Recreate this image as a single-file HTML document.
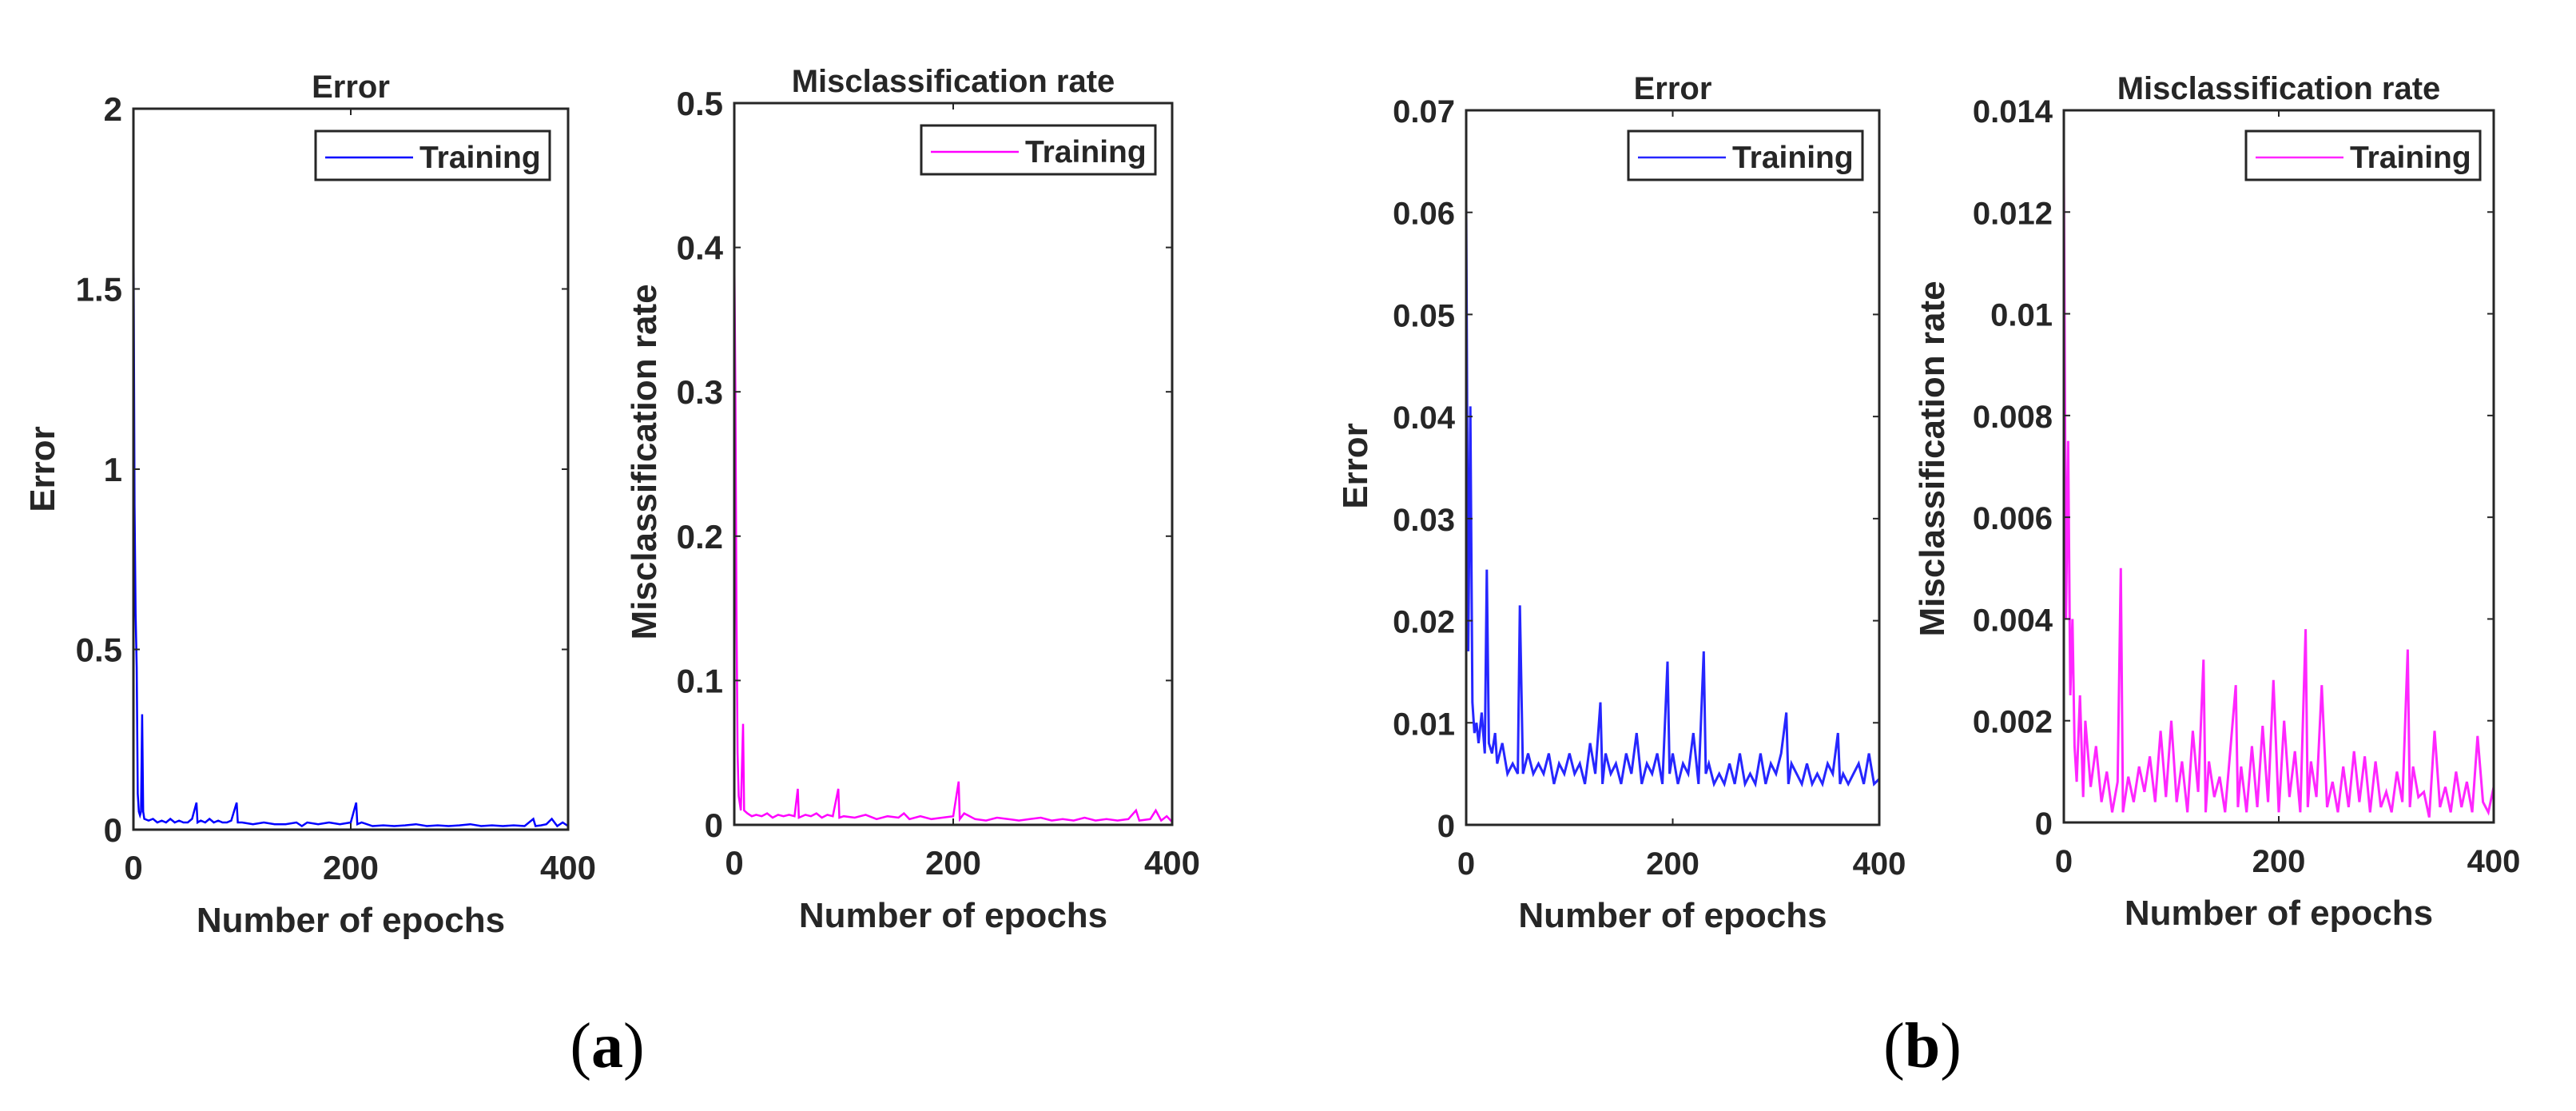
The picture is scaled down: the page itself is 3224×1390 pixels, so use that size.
<!DOCTYPE html>
<html><head><meta charset="utf-8">
<style>
html,body{margin:0;padding:0;background:#fff;}
svg{display:block;}
text{font-family:"Liberation Sans",Arial,sans-serif;font-weight:bold;fill:#262626;}
.cap{font-family:"Liberation Serif",serif;font-weight:normal;fill:#000;}
</style></head>
<body>
<svg id="fig" width="3224" height="1390" viewBox="0 0 3224 1390" xmlns="http://www.w3.org/2000/svg">
<text class="cap" x="760" y="1335" font-size="80" text-anchor="middle">(<tspan font-weight="bold">a</tspan>)</text>
<text class="cap" x="2406" y="1335" font-size="80" text-anchor="middle">(<tspan font-weight="bold">b</tspan>)</text>
</svg>
<script>
// ---- data ----
const aErrEpochs = [0,1,2,3,4,5,6,7,8,9,10,14,18,22,26,30,34,38,42,46,50,54,58,59,62,66,70,74,78,82,86,90,95,96,100,110,120,130,140,150,155,160,170,180,190,200,205,206,210,220,230,240,250,260,270,280,290,300,310,320,330,340,350,360,368,370,375,380,385,390,395,400];
const aErrValues = [1.72,0.9,0.6,0.45,0.1,0.05,0.04,0.05,0.32,0.05,0.03,0.025,0.03,0.02,0.025,0.02,0.03,0.02,0.025,0.02,0.02,0.03,0.075,0.02,0.025,0.02,0.03,0.02,0.025,0.02,0.02,0.025,0.075,0.02,0.02,0.015,0.02,0.015,0.015,0.02,0.01,0.02,0.015,0.02,0.015,0.02,0.075,0.015,0.02,0.01,0.012,0.01,0.012,0.015,0.01,0.012,0.01,0.012,0.015,0.01,0.012,0.01,0.012,0.01,0.03,0.01,0.012,0.015,0.03,0.01,0.02,0.01];
const aMisEpochs = [0,1,2,3,4,6,8,9,12,16,20,25,30,35,40,45,50,55,58,59,65,70,75,80,85,90,95,96,100,110,120,130,140,150,155,160,170,180,190,200,205,206,210,220,230,240,250,260,270,280,290,300,310,320,330,340,350,360,367,370,380,385,390,395,400];
const aMisValues = [0.40,0.3,0.15,0.05,0.02,0.01,0.07,0.01,0.008,0.006,0.007,0.006,0.008,0.005,0.007,0.006,0.007,0.006,0.025,0.005,0.007,0.006,0.008,0.005,0.007,0.006,0.025,0.005,0.006,0.005,0.007,0.004,0.006,0.005,0.008,0.004,0.006,0.004,0.005,0.006,0.03,0.004,0.008,0.004,0.003,0.005,0.004,0.003,0.004,0.005,0.003,0.004,0.003,0.005,0.003,0.004,0.003,0.004,0.01,0.003,0.004,0.01,0.003,0.006,0.002];
const bErrEpochs = [0,2,4,6,8,10,12,15,18,20,22,25,28,30,35,40,45,50,52,55,60,65,70,75,80,85,90,95,100,105,110,115,120,125,130,132,135,140,145,150,155,160,165,170,175,180,185,190,195,197,200,205,210,215,220,225,230,232,235,240,245,250,255,260,265,270,275,280,285,290,295,300,305,310,312,315,320,325,330,335,340,345,350,355,360,362,365,370,375,380,385,390,395,400];
const bErrValues = [0.061,0.017,0.041,0.012,0.009,0.010,0.008,0.011,0.007,0.025,0.008,0.007,0.009,0.006,0.008,0.005,0.006,0.005,0.0215,0.005,0.007,0.005,0.006,0.005,0.007,0.004,0.006,0.005,0.007,0.005,0.006,0.004,0.008,0.005,0.012,0.004,0.007,0.005,0.006,0.004,0.007,0.005,0.009,0.004,0.006,0.005,0.007,0.004,0.016,0.005,0.007,0.004,0.006,0.005,0.009,0.004,0.017,0.005,0.006,0.004,0.005,0.004,0.006,0.004,0.007,0.004,0.005,0.004,0.007,0.004,0.006,0.005,0.007,0.011,0.004,0.006,0.005,0.004,0.006,0.004,0.005,0.004,0.006,0.005,0.009,0.004,0.005,0.004,0.005,0.006,0.004,0.007,0.004,0.0045];
const bMisEpochs = [0,2,4,6,8,10,12,15,18,20,25,30,35,40,45,50,53,55,60,65,70,75,80,85,90,95,100,105,110,115,120,125,130,132,135,140,145,150,160,162,165,170,175,180,185,190,195,200,205,210,215,220,225,227,230,235,240,245,250,255,260,265,270,275,280,285,290,295,300,305,310,315,320,322,325,330,335,340,345,350,355,360,365,370,375,380,385,390,395,400];
const bMisValues = [0.0128,0.004,0.0075,0.0025,0.004,0.0015,0.0008,0.0025,0.0005,0.002,0.0007,0.0015,0.0004,0.001,0.0002,0.0008,0.005,0.0002,0.0009,0.0004,0.0011,0.0006,0.0013,0.0004,0.0018,0.0005,0.002,0.0004,0.0012,0.0002,0.0018,0.0006,0.0032,0.0002,0.0012,0.0005,0.0009,0.0002,0.0027,0.0003,0.0011,0.0002,0.0015,0.0003,0.0019,0.0004,0.0028,0.0002,0.002,0.0005,0.0014,0.0002,0.0038,0.0003,0.0012,0.0005,0.0027,0.0003,0.0008,0.0002,0.0011,0.0003,0.0014,0.0004,0.0013,0.0002,0.0012,0.0003,0.0006,0.0002,0.001,0.0004,0.0034,0.0003,0.0011,0.0005,0.0006,0.0001,0.0018,0.0003,0.0007,0.0002,0.001,0.0003,0.0008,0.0002,0.0017,0.0004,0.0002,0.0007];
const aErrTicks = [0,0.5,1,1.5,2];
const aErrTickLabels = ["0","0.5","1","1.5","2"];
const aMisTicks = [0,0.1,0.2,0.3,0.4,0.5];
const aMisTickLabels = ["0","0.1","0.2","0.3","0.4","0.5"];
const bErrTicks = [0,0.01,0.02,0.03,0.04,0.05,0.06,0.07];
const bErrTickLabels = ["0","0.01","0.02","0.03","0.04","0.05","0.06","0.07"];
const bMisTicks = [0,0.002,0.004,0.006,0.008,0.01,0.012,0.014];
const bMisTickLabels = ["0","0.002","0.004","0.006","0.008","0.01","0.012","0.014"];
const xTicks = [0,200,400];
const xTickLabels = ["0","200","400"];

const NS="http://www.w3.org/2000/svg";
const fig=document.getElementById('fig');
function mk(tag,parent){const e=document.createElementNS(NS,tag);parent.appendChild(e);return e;}

function panel(o){
  const g=mk('g',fig);
  
  
  const sx=v=>o.L+(v-0)/400*(o.R-o.L);
  const sy=v=>o.B-(v-0)/o.ymax*(o.B-o.T);
  // series
  const p=mk('polyline',g);
  
  
  p.setAttribute('points',o.ex.map((e,i)=>sx(e).toFixed(1)+','+sy(o.ey[i]).toFixed(1)).join(' '));
  p.setAttribute('fill','none');p.setAttribute('stroke',o.color);p.setAttribute('stroke-width',o.sw);
  if(o.op)p.setAttribute('stroke-opacity',o.op);
  // box
  const r=mk('rect',g);
  
  
  r.setAttribute('x',o.L);r.setAttribute('y',o.T);r.setAttribute('width',o.R-o.L);r.setAttribute('height',o.B-o.T);
  r.setAttribute('fill','none');r.setAttribute('stroke','#262626');r.setAttribute('stroke-width',3);
  // y ticks
  o.yt.forEach((v,i)=>{
    const y=sy(v);
    const t1=mk('line',g);t1.setAttribute('x1',o.L);t1.setAttribute('x2',o.L+8);t1.setAttribute('y1',y);t1.setAttribute('y2',y);t1.setAttribute('stroke','#262626');t1.setAttribute('stroke-width',2);
    
    
    const t2=mk('line',g);t2.setAttribute('x1',o.R);t2.setAttribute('x2',o.R-8);t2.setAttribute('y1',y);t2.setAttribute('y2',y);t2.setAttribute('stroke','#262626');t2.setAttribute('stroke-width',2);
    
    
    const tx=mk('text',g);tx.textContent=o.yl[i];
    
    
    tx.setAttribute('x',o.L-14);tx.setAttribute('y',y+15);tx.setAttribute('text-anchor','end');tx.setAttribute('font-size',o.fs);
  });
  xTicks.forEach((v,i)=>{
    const x=sx(v);
    const t1=mk('line',g);t1.setAttribute('x1',x);t1.setAttribute('x2',x);t1.setAttribute('y1',o.B);t1.setAttribute('y2',o.B-8);t1.setAttribute('stroke','#262626');t1.setAttribute('stroke-width',2);
    
    
    const t2=mk('line',g);t2.setAttribute('x1',x);t2.setAttribute('x2',x);t2.setAttribute('y1',o.T);t2.setAttribute('y2',o.T+8);t2.setAttribute('stroke','#262626');t2.setAttribute('stroke-width',2);
    
    
    const tx=mk('text',g);tx.textContent=xTickLabels[i];
    
    
    tx.setAttribute('x',x);tx.setAttribute('y',o.B+62);tx.setAttribute('text-anchor','middle');tx.setAttribute('font-size',o.fs);
  });
  const ti=mk('text',g);ti.textContent=o.title;
  
  
  ti.setAttribute('x',(o.L+o.R)/2);ti.setAttribute('y',o.T-14);ti.setAttribute('text-anchor','middle');ti.setAttribute('font-size',40);ti.setAttribute('fill','#000');
  const xl=mk('text',g);xl.textContent='Number of epochs';
  
  
  xl.setAttribute('x',(o.L+o.R)/2);xl.setAttribute('y',o.B+128);xl.setAttribute('text-anchor','middle');xl.setAttribute('font-size',44);
  const yl=mk('text',g);yl.textContent=o.ylabel;
  
  
  yl.setAttribute('transform','translate('+(o.ylx+16)+','+o.yly+') rotate(-90)');yl.setAttribute('text-anchor','middle');yl.setAttribute('font-size',44);
  // legend
  const lg=mk('g',g);
  
  
  const lr=mk('rect',lg);lr.setAttribute('x',o.lx);lr.setAttribute('y',o.ly);lr.setAttribute('width',293);lr.setAttribute('height',61);
  lr.setAttribute('fill','#fff');lr.setAttribute('stroke','#262626');lr.setAttribute('stroke-width',3);
  const ll=mk('line',lg);ll.setAttribute('x1',o.lx+12);ll.setAttribute('x2',o.lx+122);ll.setAttribute('y1',o.ly+33);ll.setAttribute('y2',o.ly+33);
  ll.setAttribute('stroke',o.color);ll.setAttribute('stroke-width',2.5);if(o.op)ll.setAttribute('stroke-opacity',o.op);
  
  
  const lt=mk('text',lg);lt.textContent='Training';
  
  
  lt.setAttribute('x',o.lx+130);lt.setAttribute('y',o.ly+46);lt.setAttribute('font-size',39);lt.setAttribute('fill','#000');
}
panel({name:'a-error-chart',L:167,R:711,T:136,B:1038,ymax:2,yt:aErrTicks,yl:aErrTickLabels,ex:aErrEpochs,ey:aErrValues,color:'#0000ff',sw:2.5,title:'Error',ylabel:'Error',ylx:52,yly:587,lx:395,ly:164,fs:42});
panel({name:'a-misclass-chart',L:919,R:1467,T:129,B:1032,ymax:0.5,yt:aMisTicks,yl:aMisTickLabels,ex:aMisEpochs,ey:aMisValues,color:'#ff00ff',sw:2.5,title:'Misclassification rate',ylabel:'Misclassification rate',ylx:805,yly:578,lx:1153,ly:157,fs:42});
panel({name:'b-error-chart',L:1835,R:2352,T:138,B:1032,ymax:0.07,yt:bErrTicks,yl:bErrTickLabels,ex:bErrEpochs,ey:bErrValues,color:'#0000ff',sw:3,op:0.85,title:'Error',ylabel:'Error',ylx:1695,yly:583,lx:2038,ly:164,fs:40});
panel({name:'b-misclass-chart',L:2583,R:3121,T:138,B:1029,ymax:0.014,yt:bMisTicks,yl:bMisTickLabels,ex:bMisEpochs,ey:bMisValues,color:'#ff00ff',sw:3,op:0.85,title:'Misclassification rate',ylabel:'Misclassification rate',ylx:2417,yly:574,lx:2811,ly:164,fs:40});
</script>
</body></html>
